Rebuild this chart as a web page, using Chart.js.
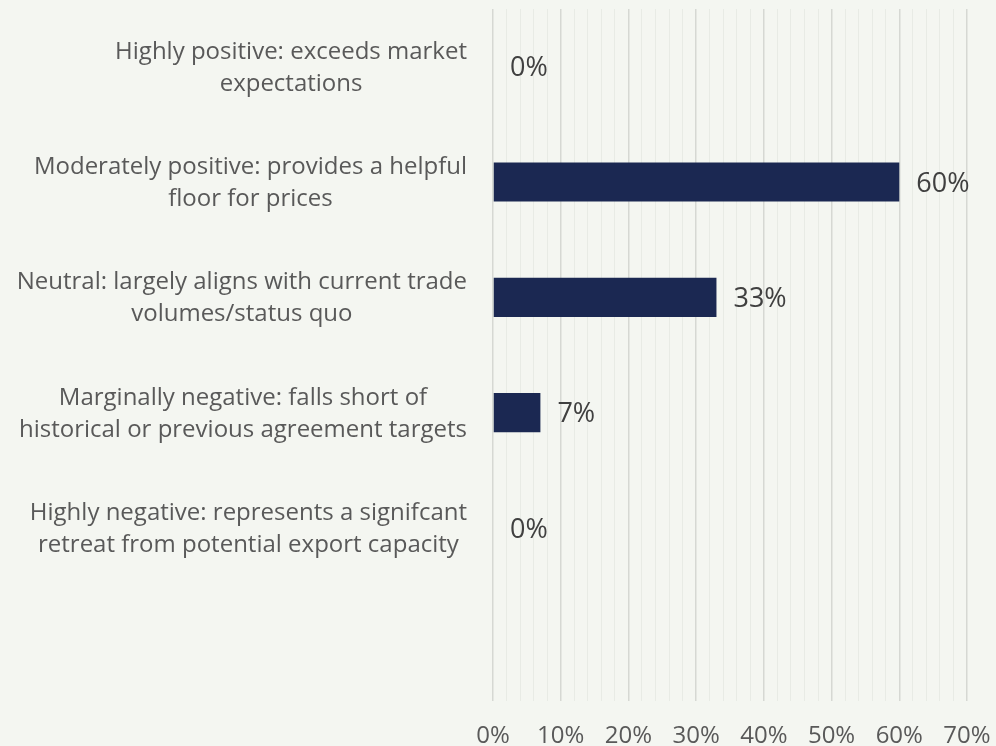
<!DOCTYPE html>
<html>
<head>
<meta charset="utf-8">
<script src="https://cdn.jsdelivr.net/npm/chart.js@4.4.1/dist/chart.umd.min.js"></script>
<style>
  html, body { margin: 0; padding: 0; background: #f4f6f1; }
  #wrap { width: 996px; height: 746px; }
</style>
</head>
<body>
<div id="wrap"><canvas id="chart" width="996" height="746"></canvas></div>
<script>
  // category labels (one array of lines per bar), last slot is an empty band
  const categories = [
    ['Highly positive: exceeds market', 'expectations'],
    ['Moderately positive: provides a helpful', 'floor for prices'],
    ['Neutral: largely aligns with current trade', 'volumes/status quo'],
    ['Marginally negative: falls short of', 'historical or previous agreement targets'],
    ['Highly negative: represents a signifcant', 'retreat from potential export capacity'],
    ['']
  ];
  const shares = [0, 60, 33, 7, 0, null];
  const xTicks = [0, 10, 20, 30, 40, 50, 60, 70];

  const FONT = '"Open Sans", sans-serif';
  const LABEL_SIZE = 24;
  const LINE_H = 32;

  // ── centred multi-line category labels, right edge against the axis ──
  const catLabels = {
    id: 'catLabels',
    afterDraw(chart) {
      const y = chart.scales.y;
      const ctx = chart.ctx;
      ctx.save();
      ctx.font = LABEL_SIZE + 'px ' + FONT;
      ctx.fillStyle = '#595959';
      ctx.textAlign = 'center';
      ctx.textBaseline = 'middle';
      categories.forEach((lines, i) => {
        const w = Math.max(...lines.map(l => ctx.measureText(l).width));
        const cx = y.right - 26 - w / 2;
        const cy = y.getPixelForTick(i) + 1;
        lines.forEach((l, j) => {
          ctx.fillText(l, cx, cy + (j - (lines.length - 1) / 2) * LINE_H);
        });
      });
      ctx.restore();
    }
  };

  // ── value labels after each bar ──
  const valueLabels = {
    id: 'valueLabels',
    afterDatasetsDraw(chart) {
      const ctx = chart.ctx;
      const meta = chart.getDatasetMeta(0);
      ctx.save();
      ctx.font = '27px ' + FONT;
      ctx.fillStyle = '#404040';
      ctx.textAlign = 'left';
      ctx.textBaseline = 'middle';
      meta.data.forEach((bar, i) => {
        if (shares[i] == null) return;
        ctx.fillText(shares[i] + '%', bar.x + 17, bar.y + 2);
      });
      ctx.restore();
    }
  };

  new Chart(document.getElementById('chart'), {
    type: 'bar',
    data: {
      labels: categories,
      datasets: [{
        data: shares,
        backgroundColor: '#1b2852',
        borderWidth: 0,
        categoryPercentage: 1,
        barPercentage: 0.34
      }]
    },
    options: {
      indexAxis: 'y',
      responsive: false,
      animation: false,
      devicePixelRatio: 1,
      layout: { padding: { top: 9, right: 29, left: 0, bottom: 0 } },
      plugins: { legend: { display: false }, tooltip: { enabled: false } },
      scales: {
        x: {
          min: 0,
          max: 70,
          afterFit: s => { s.paddingLeft = 0; s.paddingRight = 0; s.height = 45; },
          ticks: {
            stepSize: 2,
            autoSkip: false,
            maxRotation: 0,
            padding: 21,
            color: '#595959',
            font: { family: FONT, size: 24 },
            callback: v => xTicks.includes(v) ? v + '%' : ''
          },
          grid: {
            drawTicks: false,
            lineWidth: ctx => (ctx.tick && ctx.tick.value % 10 === 0) ? 1.5 : 1,
            color: ctx => (ctx.tick && ctx.tick.value % 10 === 0) ? '#d6d8d3' : '#e8ebe5'
          },
          border: { display: false }
        },
        y: {
          afterFit: s => { s.width = 493; },
          ticks: { display: false },
          grid: { display: false },
          border: { display: false }
        }
      }
    },
    plugins: [catLabels, valueLabels]
  });
</script>
</body>
</html>
